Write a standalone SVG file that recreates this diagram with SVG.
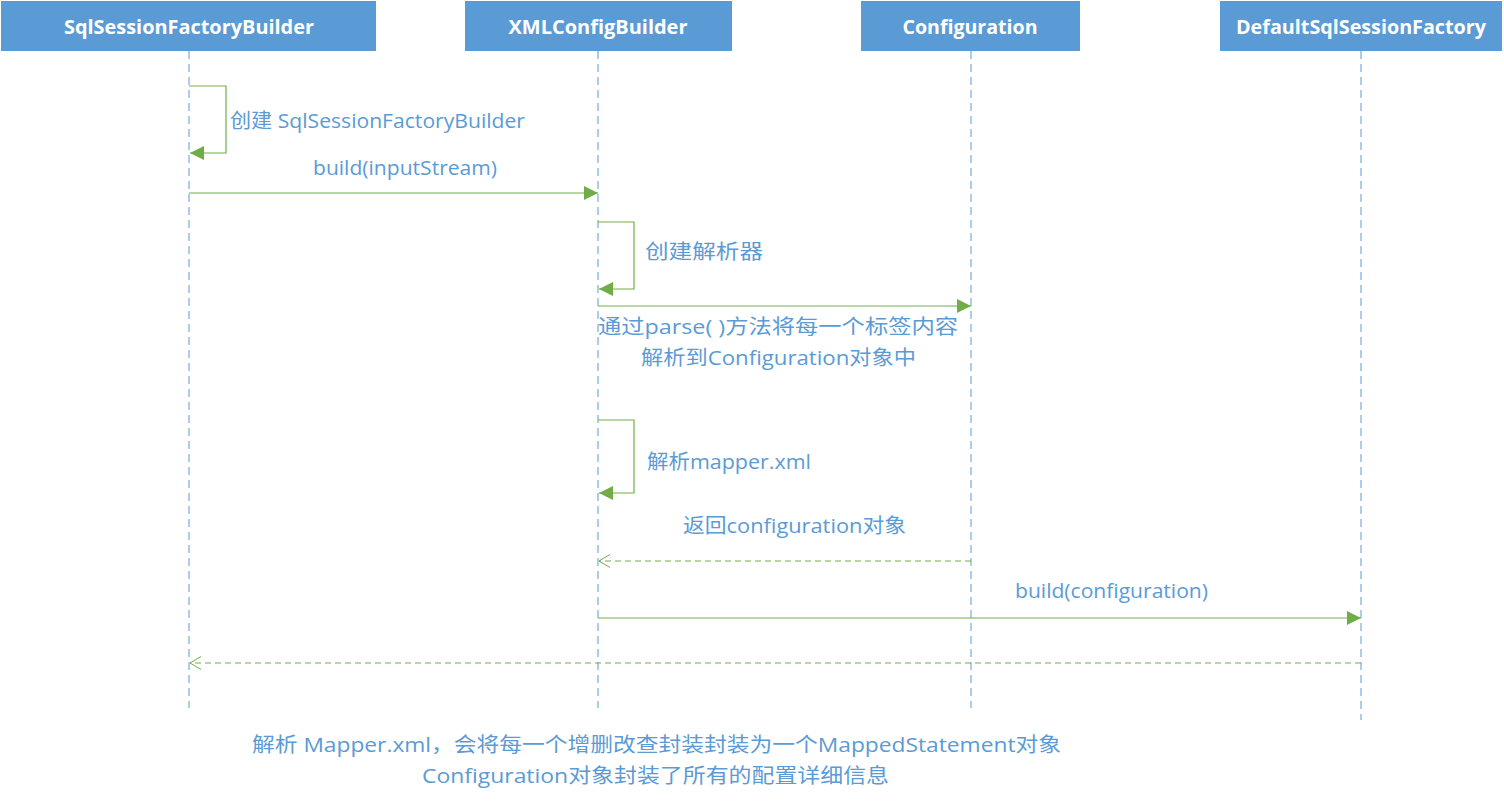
<svg xmlns="http://www.w3.org/2000/svg" width="1504" height="803" viewBox="0 0 1504 803">
<style>
.hdr{fill:#5B9BD5;}
.htxt{font-family:"Open Sans","Noto Sans CJK SC",sans-serif;font-size:19px;font-weight:bold;fill:#FFFFFF;text-anchor:middle;}
.life{stroke:#5B9BD5;stroke-width:1;stroke-dasharray:8,5;fill:none;}
.msg{stroke:#70AD47;stroke-width:1.2;fill:none;}
.loop{stroke:#70AD47;stroke-width:1.2;fill:none;}
.ret{stroke:#70AD47;stroke-width:1;stroke-dasharray:6,4;fill:none;}
.lbl{font-family:"Open Sans","Noto Sans CJK SC",sans-serif;font-size:20px;fill:#5B9BD5;}
</style>
<defs>
<marker id="fill" viewBox="0 0 14 14" refX="14" refY="7" markerWidth="14" markerHeight="14" markerUnits="userSpaceOnUse" orient="auto">
<path d="M0,0 L14,7 L0,14 Z" fill="#70AD47"/>
</marker>
<marker id="open" viewBox="0 0 14 14" refX="13" refY="7" markerWidth="14" markerHeight="14" markerUnits="userSpaceOnUse" orient="auto">
<path d="M2,0.5 L13,7 L2,13.5" fill="none" stroke="#70AD47" stroke-width="1"/>
</marker>
</defs>
<rect width="1504" height="803" fill="#FFFFFF"/>
<g id="node-sqlSessionFactoryBuilder">
<rect class="hdr" x="1" y="1" width="375" height="50"/>
<text class="htxt" x="189" y="34" textLength="250" lengthAdjust="spacingAndGlyphs">SqlSessionFactoryBuilder</text>
<line class="life" x1="189" y1="51" x2="189" y2="708"/>
</g>
<g id="node-xmlConfigBuilder">
<rect class="hdr" x="465" y="1" width="267" height="50"/>
<text class="htxt" x="598" y="34" textLength="179" lengthAdjust="spacingAndGlyphs">XMLConfigBuilder</text>
<line class="life" x1="598" y1="51" x2="598" y2="708"/>
</g>
<g id="node-configuration">
<rect class="hdr" x="861" y="1" width="219" height="50"/>
<text class="htxt" x="970" y="34" textLength="135" lengthAdjust="spacingAndGlyphs">Configuration</text>
<line class="life" x1="971" y1="51" x2="971" y2="708"/>
</g>
<g id="node-defaultSqlSessionFactory">
<rect class="hdr" x="1220" y="1" width="282" height="50"/>
<text class="htxt" x="1361" y="34" textLength="250" lengthAdjust="spacingAndGlyphs">DefaultSqlSessionFactory</text>
<line class="life" x1="1361" y1="51" x2="1361" y2="720"/>
</g>
<g id="connectors">
<polyline class="loop" points="189,86 226,86 226,153 190,153" marker-end="url(#fill)"/>
<line class="msg" x1="189" y1="193" x2="598" y2="193" marker-end="url(#fill)"/>
<polyline class="loop" points="598,222 634,222 634,289 599,289" marker-end="url(#fill)"/>
<line class="msg" x1="598" y1="306" x2="971" y2="306" marker-end="url(#fill)"/>
<polyline class="loop" points="598,420 634,420 634,493 599,493" marker-end="url(#fill)"/>
<line class="ret" x1="971" y1="561" x2="599" y2="561" marker-end="url(#open)"/>
<line class="msg" x1="598" y1="618" x2="1361" y2="618" stroke-width="1.6" marker-end="url(#fill)"/>
<line class="ret" x1="1361" y1="663" x2="190" y2="663" marker-end="url(#open)"/>
</g>
<g id="labels">
<text class="lbl" x="230" y="128" textLength="295" lengthAdjust="spacingAndGlyphs">创建 SqlSessionFactoryBuilder</text>
<text class="lbl" x="313" y="175" textLength="184" lengthAdjust="spacingAndGlyphs">build(inputStream)</text>
<text class="lbl" x="645" y="259" textLength="118" lengthAdjust="spacingAndGlyphs">创建解析器</text>
<text class="lbl" x="598" y="334" textLength="360" lengthAdjust="spacingAndGlyphs">通过parse( )方法将每一个标签内容</text>
<text class="lbl" x="641" y="365" textLength="275" lengthAdjust="spacingAndGlyphs">解析到Configuration对象中</text>
<text class="lbl" x="647" y="469" textLength="164" lengthAdjust="spacingAndGlyphs">解析mapper.xml</text>
<text class="lbl" x="683" y="533" textLength="223" lengthAdjust="spacingAndGlyphs">返回configuration对象</text>
<text class="lbl" x="1015" y="598" textLength="193" lengthAdjust="spacingAndGlyphs">build(configuration)</text>
<text class="lbl" x="252" y="752" textLength="809" lengthAdjust="spacingAndGlyphs">解析 Mapper.xml，会将每一个增删改查封装封装为一个MappedStatement对象</text>
<text class="lbl" x="422" y="783" textLength="467" lengthAdjust="spacingAndGlyphs">Configuration对象封装了所有的配置详细信息</text>
</g>
</svg>
